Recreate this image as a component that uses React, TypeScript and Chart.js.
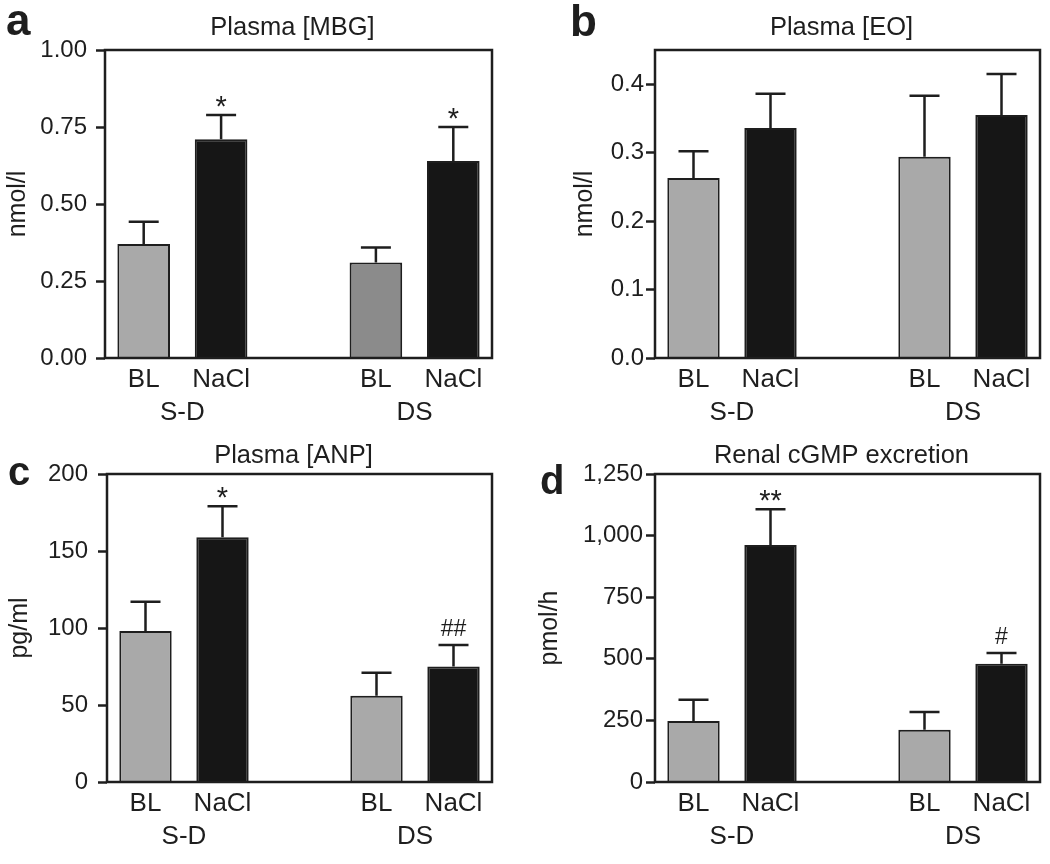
import React, { useEffect, useRef } from "react";
import { Chart, registerables } from "chart.js";
Chart.register(...registerables);

// ---- data ----
const categories = ["BL", "NaCl", "", "BL", "NaCl"];
const groupLabels = ["S-D", "DS"];

const mbgMean = [0.37, 0.71, null, 0.31, 0.64];
const mbgErr = [0.072, 0.079, null, 0.049, 0.11];
const mbgSig = ["", "*", "", "", "*"];
const mbgTicks = [0, 0.25, 0.5, 0.75, 1.0];

const eoMean = [0.263, 0.336, null, 0.294, 0.355];
const eoErr = [0.039, 0.05, null, 0.089, 0.06];
const eoSig = ["", "", "", "", ""];
const eoTicks = [0, 0.1, 0.2, 0.3, 0.4];

const anpMean = [98, 159, null, 56, 75];
const anpErr = [19, 20, null, 15, 14];
const anpSig = ["", "*", "", "", "##"];
const anpTicks = [0, 50, 100, 150, 200];

const cgmpMean = [248, 962, null, 212, 480];
const cgmpErr = [86, 145, null, 72, 44];
const cgmpSig = ["", "**", "", "", "#"];
const cgmpTicks = [0, 250, 500, 750, 1000, 1250];

const LIGHT = "#a9a9a9";
const DARKGREY = "#8b8b8b";
const BLACK = "#161616";
const INK = "#1e1e1e";
const FONT = "'Liberation Sans', Arial, Helvetica, sans-serif";

type Panel = {
  letter: string; title: string; yTitle: string;
  mean: (number | null)[]; err: (number | null)[]; sig: string[];
  colors: string[]; yMax: number; ticks: number[]; fmt: (v: number) => string;
  cx: number; cy: number; area: { l: number; t: number; r: number; b: number };
  tickPad: number; letterX: number; letterY: number; letterSize: number;
  yTitleX: number; titleY: number;
};

const W = 525, H = 432;

const panels: Panel[] = [
  {
    letter: "a", title: "Plasma [MBG]", yTitle: "nmol/l",
    mean: mbgMean, err: mbgErr, sig: mbgSig,
    colors: [LIGHT, BLACK, LIGHT, DARKGREY, BLACK], yMax: 1.0, ticks: mbgTicks,
    fmt: (v) => v.toFixed(2),
    cx: 0, cy: 0, area: { l: 105, t: 50, r: 492, b: 358 },
    tickPad: 9, letterX: 6, letterY: 35, letterSize: 44, yTitleX: 25, titleY: 35,
  },
  {
    letter: "b", title: "Plasma [EO]", yTitle: "nmol/l",
    mean: eoMean, err: eoErr, sig: eoSig,
    colors: [LIGHT, BLACK, LIGHT, LIGHT, BLACK], yMax: 0.45, ticks: eoTicks,
    fmt: (v) => v.toFixed(1),
    cx: 525, cy: 0, area: { l: 130, t: 50, r: 515, b: 358 },
    tickPad: 2, letterX: 45, letterY: 36, letterSize: 44, yTitleX: 67, titleY: 35,
  },
  {
    letter: "c", title: "Plasma [ANP]", yTitle: "pg/ml",
    mean: anpMean, err: anpErr, sig: anpSig,
    colors: [LIGHT, BLACK, LIGHT, LIGHT, BLACK], yMax: 200, ticks: anpTicks,
    fmt: (v) => String(v),
    cx: 0, cy: 432, area: { l: 107, t: 42, r: 492, b: 350 },
    tickPad: 10, letterX: 8, letterY: 53, letterSize: 40, yTitleX: 27, titleY: 31,
  },
  {
    letter: "d", title: "Renal cGMP excretion", yTitle: "pmol/h",
    mean: cgmpMean, err: cgmpErr, sig: cgmpSig,
    colors: [LIGHT, BLACK, LIGHT, LIGHT, BLACK], yMax: 1250, ticks: cgmpTicks,
    fmt: (v) => v.toLocaleString("en-US"),
    cx: 525, cy: 432, area: { l: 130, t: 42, r: 515, b: 350 },
    tickPad: 3, letterX: 15, letterY: 62, letterSize: 40, yTitleX: 32, titleY: 31,
  },
];

function makeDecor(p: Panel) {
  return {
    id: "decor_" + p.letter,
    afterDatasetsDraw(chart: any) {
      const ctx = chart.ctx;
      const xs = chart.scales.x;
      const ys = chart.scales.y;
      const ca = chart.chartArea;
      ctx.save();
      ctx.strokeStyle = INK;
      ctx.lineWidth = 2.5;
      for (let i = 0; i < p.mean.length; i++) {
        const m = p.mean[i];
        const e = p.err[i];
        if (m == null || e == null) continue;
        const x = xs.getPixelForValue(i);
        const yb = ys.getPixelForValue(m);
        const yt = ys.getPixelForValue(m + e);
        ctx.beginPath();
        ctx.moveTo(x, yb);
        ctx.lineTo(x, yt);
        ctx.moveTo(x - 15, yt);
        ctx.lineTo(x + 15, yt);
        ctx.stroke();
        const s = p.sig[i];
        if (s) {
          ctx.fillStyle = INK;
          ctx.textAlign = "center";
          ctx.textBaseline = "alphabetic";
          if (s.includes("#")) {
            ctx.font = `23px ${FONT}`;
            ctx.fillText(s, x, yt - 9);
          } else {
            ctx.font = `29px ${FONT}`;
            ctx.fillText(s, x, yt + 1);
          }
        }
      }
      ctx.lineWidth = 2.5;
      ctx.strokeStyle = INK;
      ctx.strokeRect(ca.left, ca.top, ca.right - ca.left, ca.bottom - ca.top);
      ctx.restore();
    },
    afterDraw(chart: any) {
      const ctx = chart.ctx;
      const xs = chart.scales.x;
      const ca = chart.chartArea;
      ctx.save();
      ctx.fillStyle = INK;
      ctx.textAlign = "left";
      ctx.textBaseline = "alphabetic";
      ctx.font = `bold ${p.letterSize}px ${FONT}`;
      ctx.fillText(p.letter, p.letterX, p.letterY);
      ctx.textAlign = "center";
      ctx.font = `25.5px ${FONT}`;
      ctx.fillText(p.title, (ca.left + ca.right) / 2 - 6, p.titleY);
      ctx.font = `26px ${FONT}`;
      const g0 = (xs.getPixelForValue(0) + xs.getPixelForValue(1)) / 2;
      const g1 = (xs.getPixelForValue(3) + xs.getPixelForValue(4)) / 2;
      ctx.fillText(groupLabels[0], g0, ca.bottom + 62);
      ctx.fillText(groupLabels[1], g1, ca.bottom + 62);
      ctx.font = `25px ${FONT}`;
      ctx.translate(p.yTitleX, (ca.top + ca.bottom) / 2);
      ctx.rotate(-Math.PI / 2);
      ctx.textAlign = "center";
      ctx.fillText(p.yTitle, 0, 0);
      ctx.restore();
    },
  };
}

function PanelChart({ p }: { p: Panel }) {
  const ref = useRef<HTMLCanvasElement>(null);
  useEffect(() => {
    if (!ref.current) return;
    const chart = new Chart(ref.current, {
      type: "bar",
      data: {
        labels: categories,
        datasets: [
          {
            data: p.mean as any,
            backgroundColor: p.colors,
            borderColor: INK,
            borderWidth: 2,
            barPercentage: 0.68,
            categoryPercentage: 1.0,
          },
        ],
      },
      options: {
        responsive: false,
        animation: false,
        devicePixelRatio: 1,
        layout: {
          padding: { left: 0, top: p.area.t, right: W - p.area.r, bottom: 0 },
        },
        plugins: {
          legend: { display: false },
          title: { display: false },
          tooltip: { enabled: false },
        },
        scales: {
          x: {
            type: "category",
            offset: true,
            grid: { display: false },
            border: { display: false },
            ticks: {
              autoSkip: false,
              maxRotation: 0,
              minRotation: 0,
              padding: -2,
              color: INK,
              font: { size: 26, family: FONT },
            },
            afterFit: (s: any) => { s.height = H - p.area.b; },
          },
          y: {
            min: 0,
            max: p.yMax,
            grid: {
              display: true,
              drawOnChartArea: false,
              drawTicks: true,
              tickLength: 9,
              tickWidth: 2.5,
              tickColor: INK,
            },
            border: { display: false },
            afterBuildTicks: (s: any) => { s.ticks = p.ticks.map((v) => ({ value: v })); },
            ticks: {
              padding: p.tickPad,
              color: INK,
              font: { size: 24, family: FONT },
              callback: (v: any) => p.fmt(Number(v)),
            },
            afterFit: (s: any) => { s.width = p.area.l; },
          },
        },
      },
      plugins: [makeDecor(p)],
    });
    return () => chart.destroy();
  }, [p]);
  return (
    <canvas
      ref={ref}
      width={W}
      height={H}
      style={{ position: "absolute", left: p.cx, top: p.cy, width: W, height: H }}
    />
  );
}

export default function App() {
  return (
    <div style={{ position: "absolute", left: 0, top: 0, width: 1050, height: 864, background: "#fff" }}>
      {panels.map((p) => (
        <PanelChart key={p.letter} p={p} />
      ))}
    </div>
  );
}
